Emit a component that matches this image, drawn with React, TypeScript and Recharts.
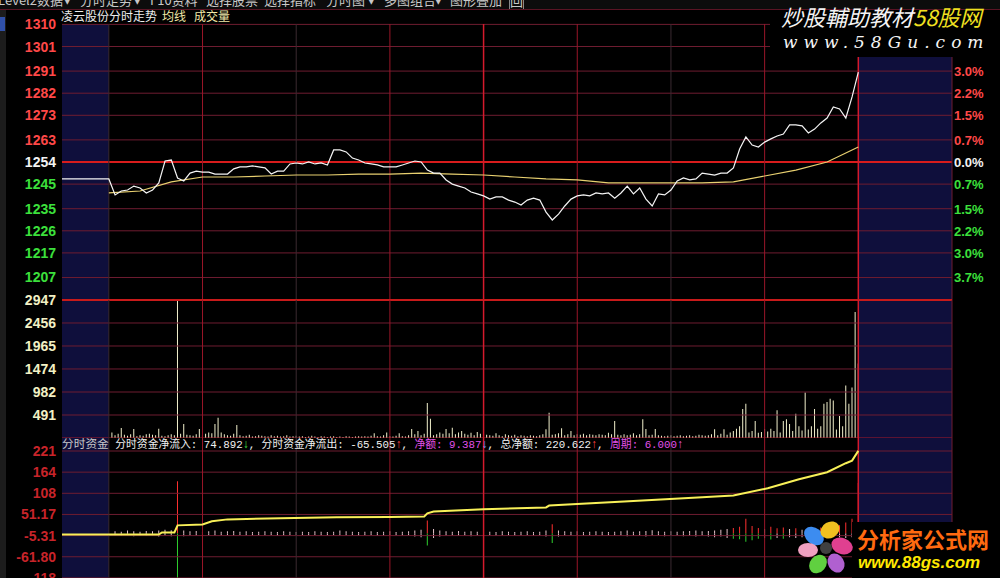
import React from "react";
import {
  ComposedChart,
  Line,
  Bar,
  Cell,
  XAxis,
  YAxis,
  ReferenceLine,
  ReferenceArea,
} from "recharts";

// ─── Data ──────────────────────────────────────────────────────────────────────

const prevClose = 1254;
const openPrice = 1247.1;

// price every 2 minutes, 9:30 → 15:00 (121 points)
const prices = [
  1247.1, 1240.6, 1242.2, 1242.6, 1244.2, 1243.4, 1241.4, 1242.6, 1245.5, 1254.4,
  1254.8, 1247.5, 1246.3, 1249.5, 1250.3, 1249.9, 1249.9, 1249.1, 1249.1, 1249.1,
  1251.2, 1252.0, 1252.0, 1252.4, 1252.0, 1251.6, 1249.1, 1250.3, 1250.3, 1253.2,
  1253.6, 1253.2, 1254.0, 1253.2, 1253.6, 1252.8, 1258.9, 1258.9, 1258.1, 1255.6,
  1254.8, 1253.6, 1253.2, 1252.8, 1252.0, 1252.0, 1252.0, 1252.8, 1253.6, 1254.4,
  1254.0, 1250.7, 1249.5, 1249.5, 1246.7, 1245.0, 1244.2, 1243.4, 1241.8, 1241.0,
  1240.2, 1238.9, 1239.8, 1239.8, 1238.5, 1237.7, 1236.5, 1238.5, 1239.3, 1238.5,
  1233.6, 1230.4, 1232.8, 1236.1, 1238.9, 1240.2, 1240.6, 1240.2, 1241.4, 1241.0,
  1241.4, 1239.3, 1241.4, 1244.2, 1241.0, 1243.4, 1238.9, 1236.1, 1241.0, 1240.6,
  1242.6, 1246.3, 1247.5, 1246.7, 1247.1, 1249.5, 1249.1, 1248.7, 1249.5, 1249.5,
  1251.6, 1259.3, 1264.2, 1260.9, 1260.1, 1262.1, 1263.4, 1264.6, 1265.4, 1269.1,
  1269.1, 1268.7, 1265.8, 1267.4, 1269.9, 1271.9, 1276.4, 1275.6, 1271.9, 1280.5,
  1290.6,
];

// average price every 10 minutes
const avgPrices = [
  1241.4, 1242.2, 1245.9, 1247.9, 1247.9, 1248.3, 1248.7, 1248.7, 1249.1, 1249.1,
  1249.5, 1249.1, 1248.7, 1247.9, 1247.1, 1246.7, 1245.5, 1245.5, 1245.5, 1245.5,
  1245.9, 1248.3, 1250.7, 1254.0, 1260.1,
];

// volume per minute, minute 1 → 240
const volumes = [
  120, 60, 90, 215, 70, 50, 80, 190, 40, 60, 50, 80, 90, 70, 60, 200, 50, 40, 60, 80,
  60, 2947, 90, 300, 70, 60, 50, 80, 190, 60, 90, 120, 100, 300, 430, 120, 80, 60, 50, 90,
  280, 60, 40, 50, 70, 30, 40, 60, 50, 40, 30, 60, 40, 50, 30, 40, 60, 30, 40, 50,
  30, 40, 20, 30, 50, 30, 20, 40, 30, 20, 30, 40, 20, 30, 20, 40, 30, 20, 30, 40,
  30, 40, 30, 50, 100, 40, 30, 60, 120, 40, 30, 50, 100, 40, 30, 60, 190, 80, 150, 60,
  90, 750, 410, 60, 80, 120, 90, 190, 100, 220, 80, 120, 150, 90, 70, 110, 60, 130, 90, 80,
  70, 60, 50, 100, 60, 40, 80, 60, 50, 70, 40, 60, 50, 40, 60, 50, 40, 60, 80, 187,
  540, 70, 80, 100, 210, 60, 80, 150, 60, 80, 70, 90, 60, 80, 70, 60, 80, 70, 60, 110,
  80, 365, 70, 60, 80, 60, 70, 100, 60, 80, 400, 190, 60, 70, 190, 60, 50, 40, 50, 60,
  40, 50, 60, 40, 50, 60, 40, 50, 70, 60, 50, 60, 80, 187, 60, 90, 187, 70, 115, 150,
  200, 250, 620, 730, 120, 150, 365, 110, 130, 190, 140, 200, 150, 590, 120, 365, 400, 300, 150, 520,
  250, 160, 970, 180, 250, 620, 200, 250, 730, 770, 840, 800, 180, 470, 250, 1120, 730, 1080, 2690, 1590,
];

// fund flow in / out every 2 minutes
const flowIn = [
  6, 5, 8, 6, 5, 7, 6, 8, 10, 9,
  140, 8, 6, 7, 5, 6, 8, 5, 6, 7,
  5, 6, 4, 5, 6, 5, 4, 6, 5, 4,
  5, 4, 6, 5, 4, 5, 8, 6, 5, 4,
  5, 6, 4, 5, 6, 4, 5, 6, 8, 10,
  35, 12, 8, 6, 5, 7, 5, 6, 5, 4,
  5, 4, 6, 5, 4, 5, 6, 4, 5, 8,
  25, 8, 6, 5, 6, 4, 5, 6, 5, 4,
  5, 6, 8, 5, 6, 7, 9, 6, 5, 6,
  5, 6, 7, 8, 6, 7, 8, 10, 12, 15,
  18, 40, 20, 15, 12, 18, 14, 16, 12, 14,
  10, 12, 14, 16, 18, 20, 22, 30, 40, 135,
];
const flowOut = [
  -5, -6, -4, -7, -5, -6, -5, -8, -6, -7,
  -120, -7, -5, -6, -5, -4, -6, -5, -4, -6,
  -4, -5, -6, -4, -5, -4, -6, -5, -4, -5,
  -4, -5, -4, -6, -5, -4, -6, -5, -4, -6,
  -5, -4, -6, -5, -4, -5, -6, -4, -8, -10,
  -32, -12, -8, -6, -5, -6, -5, -7, -5, -6,
  -4, -6, -5, -4, -6, -5, -4, -6, -5, -8,
  -25, -8, -6, -5, -4, -6, -5, -4, -6, -5,
  -6, -5, -7, -6, -5, -8, -6, -5, -7, -6,
  -5, -7, -6, -8, -6, -8, -10, -8, -12, -14,
  -15, -22, -18, -14, -12, -16, -12, -14, -10, -12,
  -10, -8, -10, -12, -10, -8, -10, -12, -10, -10,
];

// cumulative net flow
const netTime = [-15, 16, 17, 21, 22, 30, 33, 38, 55, 73, 90, 101, 102, 104, 120, 140, 141, 165, 190, 200, 211, 221, 230, 236, 238, 240];
const netTotal = [-2.3, -2.3, 3.1, 3.1, 22, 24.6, 33, 38, 40.8, 43.5, 44.5, 46, 54, 59, 65, 70, 75, 86, 97, 102, 121, 145, 164, 188, 195, 221];

const priceTicks = [1310, 1301, 1291, 1282, 1273, 1263, 1254, 1245, 1235, 1226, 1217, 1207];
// right-hand labels (1310 / 1301 sit under the watermark and are not shown)
const pctTicks = [1291, 1282, 1273, 1263, 1254, 1245, 1235, 1226, 1217, 1207];
const pctLabels = ["3.0%", "2.2%", "1.5%", "0.7%", "0.0%", "0.7%", "1.5%", "2.2%", "3.0%", "3.7%"];
const volTicks = [2947, 2456, 1965, 1474, 982, 491];
const flowTicks = [220.61, 164.13, 107.65, 51.17, -5.31, -61.8, -118.28];
const flowLabels = ["221", "164", "108", "51.17", "-5.31", "-61.80", "-118"];
const gridMinutes = [0, 30, 60, 90, 120, 150, 180, 210, 240];

const toolbarItems = [
  { t: "Level2数据", x: -2 },
  { t: "▾", x: 64 },
  { t: "分时走势", x: 80 },
  { t: "▾", x: 134 },
  { t: "F10资料", x: 150 },
  { t: "选择股票", x: 206 },
  { t: "选择指标", x: 264 },
  { t: "分时图", x: 326 },
  { t: "▾", x: 368 },
  { t: "多图组合", x: 384 },
  { t: "▾", x: 435 },
  { t: "图形叠加", x: 450 },
  { t: "回", x: 509 },
];

// ─── Rows for recharts ─────────────────────────────────────────────────────────

const priceRows = [{ m: -15, p: openPrice }, ...prices.map((p, i) => ({ m: i * 2, p }))];
const avgRows = avgPrices.map((a, i) => ({ m: i * 10, a }));
const volRows = volumes.map((v, i) => ({ m: i + 1, v }));
const flowRows = flowIn.map((v, i) => ({ m: (i + 1) * 2, inn: v, out: flowOut[i] }));
const netRows = netTime.map((m, i) => ({ m, t: netTotal[i] }));

// ─── Style ─────────────────────────────────────────────────────────────────────

const W = 1000;
const X_DOMAIN: [number, number] = [-15, 270];
const NAVY = "#0f0f3c";
const GRID = "#6e1c30";
const NUM_FONT = "'Liberation Sans', Arial, sans-serif";
const CJK_FONT = "'Noto Sans CJK SC', 'Noto Sans', sans-serif";

function vLineColor(m: number) {
  if (m === 120 || m === 240) return "#d41a2c";
  return (m / 30) % 2 === 1 ? "#9a1628" : "#3a2a30";
}

function PriceTick({ x, y, payload }: any) {
  const v = payload.value;
  const fill = v > prevClose ? "#ff4848" : v < prevClose ? "#3ce03c" : "#f2f2f2";
  return (
    <text x={x} y={y} dy={5} textAnchor="end" fill={fill} fontSize={14} fontWeight="bold" fontFamily={NUM_FONT}>
      {v}
    </text>
  );
}

function PctTick({ x, y, payload }: any) {
  const v = payload.value;
  const fill = v > prevClose ? "#ff4848" : v < prevClose ? "#3ce03c" : "#f2f2f2";
  return (
    <text x={x} y={y} dy={5} textAnchor="start" fill={fill} fontSize={13} fontWeight="bold" fontFamily={NUM_FONT}>
      {pctLabels[pctTicks.indexOf(v)]}
    </text>
  );
}

function VolTick({ x, y, payload }: any) {
  return (
    <text x={x} y={y} dy={5} textAnchor="end" fill="#f2f0c4" fontSize={14} fontWeight="bold" fontFamily={NUM_FONT}>
      {payload.value}
    </text>
  );
}

function FlowTick({ x, y, payload }: any) {
  return (
    <text x={x} y={y} dy={5} textAnchor="end" fill="#c8242a" fontSize={14} fontWeight="bold" fontFamily={NUM_FONT}>
      {flowLabels[flowTicks.indexOf(payload.value)]}
    </text>
  );
}

function verticals() {
  return [
    ...gridMinutes.map((m) => (
      <ReferenceLine key={"v" + m} x={m} stroke={vLineColor(m)} strokeWidth={m === 120 || m === 240 ? 1.5 : 1} />
    )),
    <ReferenceLine key="vr" x={270} stroke={GRID} />,
  ];
}

function navyAreas() {
  return [
    <ReferenceArea key="nl" x1={-15} x2={0} fill={NAVY} fillOpacity={1} stroke="none" />,
    <ReferenceArea key="nr" x1={240} x2={270} fill={NAVY} fillOpacity={1} stroke="none" />,
  ];
}

function Arrow({ up, color }: { up: boolean; color: string }) {
  return <span style={{ color, fontFamily: NUM_FONT, fontSize: 12 }}>{up ? "↑" : "↓"}</span>;
}

// ─── Component ─────────────────────────────────────────────────────────────────

export default function App() {
  return (
    <div
      style={{
        position: "absolute",
        left: 0,
        top: 0,
        width: W,
        height: 578,
        background: "#000",
        overflow: "hidden",
        fontFamily: CJK_FONT,
      }}
    >
      {/* price panel */}
      <div style={{ position: "absolute", left: 0, top: 0 }}>
        <ComposedChart width={W} height={300} data={priceRows} margin={{ top: 24, right: 0, bottom: 0, left: 0 }}>
          <XAxis dataKey="m" type="number" domain={X_DOMAIN} allowDataOverflow hide />
          <YAxis yAxisId="l" domain={[1197.84, 1310.16]} ticks={priceTicks} interval={0} width={62} tickSize={0} tickMargin={6} axisLine={false} tickLine={false} tick={PriceTick} allowDataOverflow />
          <YAxis yAxisId="r" orientation="right" domain={[1197.84, 1310.16]} ticks={pctTicks} interval={0} width={48} tickSize={0} tickMargin={2} axisLine={false} tickLine={false} tick={PctTick} allowDataOverflow />
          {navyAreas().map((el) => React.cloneElement(el, { yAxisId: "l" }))}
          {priceTicks.map((t) => (
            <ReferenceLine key={"h" + t} yAxisId="l" y={t} stroke={t === prevClose ? "#d81c1c" : GRID} strokeWidth={t === prevClose ? 2 : 1} />
          ))}
          {verticals().map((el) => React.cloneElement(el, { yAxisId: "l" }))}
          <Line yAxisId="l" data={avgRows} dataKey="a" type="linear" stroke="#e8d070" strokeWidth={1.2} dot={false} isAnimationActive={false} />
          <Line yAxisId="l" dataKey="p" type="linear" stroke="#f4f4f4" strokeWidth={1.2} dot={false} isAnimationActive={false} />
        </ComposedChart>
      </div>

      {/* volume panel */}
      <div style={{ position: "absolute", left: 0, top: 290 }}>
        <ComposedChart width={W} height={148} data={volRows} margin={{ top: 10, right: 0, bottom: 0, left: 0 }}>
          <XAxis dataKey="m" type="number" domain={X_DOMAIN} allowDataOverflow hide />
          <YAxis domain={[0, 2947]} ticks={volTicks} interval={0} width={62} tickSize={0} tickMargin={6} axisLine={false} tickLine={false} tick={VolTick} allowDataOverflow />
          <YAxis yAxisId="r" orientation="right" width={48} tick={false} axisLine={false} tickLine={false} />
          {navyAreas()}
          {volTicks.map((t) => (
            <ReferenceLine key={"h" + t} y={t} stroke={t === 2947 ? "#c81a1a" : GRID} strokeWidth={t === 2947 ? 2 : 1} />
          ))}
          <ReferenceLine y={0} stroke="#a81828" strokeWidth={1} />
          {verticals()}
          <Bar dataKey="v" fill="#f2f0cc" barSize={1} isAnimationActive={false} />
        </ComposedChart>
      </div>

      {/* fund flow panel */}
      <div style={{ position: "absolute", left: 0, top: 430 }}>
        <ComposedChart width={W} height={170} data={flowRows} stackOffset="sign" margin={{ top: 8, right: 0, bottom: 0, left: 0 }}>
          <XAxis dataKey="m" type="number" domain={X_DOMAIN} allowDataOverflow hide />
          <YAxis domain={[-177.29, 255.33]} ticks={flowTicks} interval={0} width={62} tickSize={0} tickMargin={6} axisLine={false} tickLine={false} tick={FlowTick} allowDataOverflow />
          <YAxis yAxisId="r" orientation="right" width={48} tick={false} axisLine={false} tickLine={false} />
          {navyAreas()}
          {flowTicks.map((t) => (
            <ReferenceLine key={"h" + t} y={t} stroke={GRID} />
          ))}
          {verticals()}
          <Bar dataKey="inn" stackId="f" barSize={1} isAnimationActive={false}>
            {flowRows.map((r, i) => (
              <Cell key={i} fill={r.inn > 12 ? "#ff3030" : "#e8c4cc"} />
            ))}
          </Bar>
          <Bar dataKey="out" stackId="f" barSize={1} isAnimationActive={false}>
            {flowRows.map((r, i) => (
              <Cell key={i} fill={r.out < -12 ? "#2ed02e" : "#e8c4cc"} />
            ))}
          </Bar>
          <Line data={netRows} dataKey="t" type="linear" stroke="#f8f058" strokeWidth={2} dot={false} isAnimationActive={false} />
        </ComposedChart>
      </div>

      {/* toolbar */}
      <div style={{ position: "absolute", left: 0, top: 0, width: W, height: 9, background: "#0c0c0c", borderBottom: "1px solid #5a1424", overflow: "hidden" }}>
        {toolbarItems.map((it, i) => (
          <span
            key={i}
            style={{
              position: "absolute",
              left: it.x,
              top: -8,
              fontSize: 13,
              lineHeight: "16px",
              color: "#c8c8c8",
              whiteSpace: "nowrap",
              border: it.t === "回" ? "1px solid #888" : "none",
            }}
          >
            {it.t}
          </span>
        ))}
      </div>

      {/* left side strip */}
      <div style={{ position: "absolute", left: 0, top: 10, width: 6, height: 568, background: "#1c1c1c" }} />
      <div style={{ position: "absolute", left: 0, top: 17, width: 5, height: 14, background: "#3050a8" }} />

      {/* price header */}
      <div style={{ position: "absolute", left: 61, top: 9, fontSize: 12, lineHeight: "14px", whiteSpace: "nowrap" }}>
        <span style={{ color: "#ececec" }}>凌云股份分时走势</span>
        <span style={{ color: "#f0e8a8", marginLeft: 5 }}>均线</span>
        <span style={{ color: "#f0e8a8", marginLeft: 8 }}>成交量</span>
      </div>

      {/* flow header */}
      <div
        style={{
          position: "absolute",
          left: 62,
          top: 437,
          fontSize: 10.8,
          lineHeight: "14px",
          whiteSpace: "nowrap",
          color: "#f0f0f0",
          fontFamily: "'Liberation Mono', 'Noto Sans CJK SC', monospace",
        }}
      >
        <span style={{ color: "#c8c8c8", fontSize: 11.7 }}>分时资金</span>
        <span> 分时资金净流入: 74.892</span>
        <Arrow up={false} color="#40e040" />
        <span>, 分时资金净流出: -65.505</span>
        <Arrow up color="#ff4040" />
        <span>, </span>
        <span style={{ color: "#e050e8" }}>净额: 9.387</span>
        <Arrow up={false} color="#60a0ff" />
        <span>, 总净额: 220.622</span>
        <Arrow up color="#ff4040" />
        <span>, </span>
        <span style={{ color: "#e050e8" }}>周期: 6.000</span>
        <Arrow up color="#e050e8" />
      </div>

      {/* watermark top right */}
      <div style={{ position: "absolute", left: 770, top: 10, width: 230, height: 47, background: "#000" }} />
      <div style={{ position: "absolute", left: 781, top: 3, fontSize: 22, fontStyle: "italic", color: "#f4f4f4", whiteSpace: "nowrap", lineHeight: "26px" }}>
        炒股輔助教材<span style={{ color: "#f0e020" }}>58股网</span>
      </div>
      <div style={{ position: "absolute", left: 783, top: 32, fontSize: 17, fontStyle: "italic", letterSpacing: 6, color: "#f4f4f4", whiteSpace: "nowrap", lineHeight: "20px", fontFamily: "'DejaVu Serif', serif" }}>
        www.58Gu.com
      </div>

      {/* logo bottom right */}
      <div style={{ position: "absolute", left: 852, top: 522, width: 148, height: 56, background: "#000" }} />
      <svg style={{ position: "absolute", left: 798, top: 518 }} width={58} height={58}>
        <ellipse cx={16} cy={18} rx={11} ry={8} fill="#3c8cf0" transform="rotate(40 16 18)" />
        <ellipse cx={32} cy={12} rx={10} ry={8} fill="#f0c020" transform="rotate(-30 32 12)" />
        <ellipse cx={44} cy={28} rx={11} ry={8} fill="#e04090" transform="rotate(20 44 28)" />
        <ellipse cx={38} cy={45} rx={10} ry={8} fill="#b060d0" transform="rotate(60 38 45)" />
        <ellipse cx={20} cy={46} rx={10} ry={8} fill="#60d040" transform="rotate(-50 20 46)" />
        <ellipse cx={10} cy={32} rx={10} ry={7} fill="#f0a0c0" />
        <circle cx={28} cy={30} r={6} fill="#404040" />
      </svg>
      <div style={{ position: "absolute", left: 857, top: 524, fontSize: 22, fontWeight: "bold", color: "#ff6a10", whiteSpace: "nowrap", lineHeight: "28px" }}>
        分析家公式网
      </div>
      <div style={{ position: "absolute", left: 858, top: 553, fontSize: 17, fontWeight: "bold", fontStyle: "italic", color: "#ffe800", whiteSpace: "nowrap", lineHeight: "20px", fontFamily: NUM_FONT }}>
        www.88gs.com
      </div>
    </div>
  );
}
